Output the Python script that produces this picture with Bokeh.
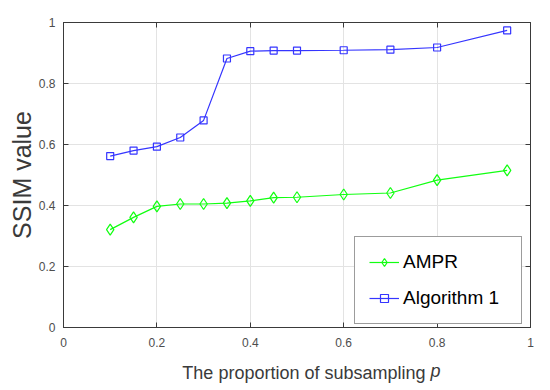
import math
from bokeh.plotting import figure
from bokeh.models import (LinearAxis, Range1d, Legend, LegendItem, Label, Grid,
                          FixedTicker, CustomJSTickFormatter)
from bokeh.embed import file_html
from bokeh.resources import INLINE

p_values = [0.1, 0.15, 0.2, 0.25, 0.3, 0.35, 0.4, 0.45, 0.5, 0.6, 0.7, 0.8, 0.95]
ampr = [0.321, 0.361, 0.397, 0.405, 0.405, 0.408, 0.415, 0.426, 0.427, 0.436, 0.441, 0.483, 0.515]
algorithm1 = [0.562, 0.580, 0.593, 0.623, 0.679, 0.882, 0.906, 0.908, 0.908, 0.909, 0.911, 0.918, 0.974]
x_ticks = [0, 0.2, 0.4, 0.6, 0.8, 1]
y_ticks = [0, 0.2, 0.4, 0.6, 0.8, 1]
series_names = ["AMPR", "Algorithm 1"]

FONT = "Liberation Sans"
AX = "#3a3a3a"
TICKLAB = "#4d4d4d"
GREEN = "#11ff11"
BLUE = "#3535ff"

p = figure(width=550, height=390, output_backend="svg", toolbar_location=None,
           x_range=Range1d(0, 1), y_range=Range1d(0, 1),
           x_axis_type=None, y_axis_type=None,
           min_border_left=63, min_border_right=20, min_border_top=22, min_border_bottom=63)
p.background_fill_color = "white"
p.border_fill_color = "white"
p.outline_line_color = AX
p.outline_line_width = 1

def make_axis(ticks, show_labels):
    ax = LinearAxis(ticker=FixedTicker(ticks=ticks))
    ax.axis_line_color = AX
    ax.major_tick_line_color = AX
    ax.major_tick_in = 5
    ax.major_tick_out = 0
    ax.minor_tick_line_color = None
    ax.major_label_text_font = FONT
    ax.major_label_text_font_size = "12px"
    ax.major_label_text_color = TICKLAB
    ax.major_label_standoff = 8
    ax.axis_label_text_font = FONT
    ax.axis_label_text_color = AX
    ax.axis_label_text_font_style = "normal"
    if show_labels:
        ax.formatter = CustomJSTickFormatter(code="return tick.toString()")
    else:
        ax.formatter = CustomJSTickFormatter(code="return ''")
        ax.major_label_standoff = 0
    return ax

xb = make_axis(x_ticks, True)
xb.major_label_standoff = 10
p.add_layout(xb, "below")
yl = make_axis(y_ticks, True)
yl.axis_label = "SSIM value"
yl.axis_label_text_font_size = "25px"
yl.axis_label_standoff = 0
p.add_layout(yl, "left")
p.add_layout(make_axis(x_ticks, False), "above")
p.add_layout(make_axis(y_ticks, False), "right")

p.add_layout(Grid(dimension=0, ticker=FixedTicker(ticks=x_ticks), grid_line_color="#e3e3e3"))
p.add_layout(Grid(dimension=1, ticker=FixedTicker(ticks=y_ticks), grid_line_color="#e3e3e3"))

l1 = p.line(p_values, ampr, line_color=GREEN, line_width=1.2)
s1 = p.scatter(p_values, ampr, marker="diamond", size=11, fill_color=None,
               line_color=GREEN, line_width=1.2)
l2 = p.line(p_values, algorithm1, line_color=BLUE, line_width=1.2)
s2 = p.scatter(p_values, algorithm1, marker="square", size=7, fill_color=None,
               line_color=BLUE, line_width=1.2)

legend = Legend(items=[LegendItem(label=series_names[0], renderers=[l1, s1]),
                       LegendItem(label=series_names[1], renderers=[l2, s2])],
                location=(291, 3))
legend.label_text_font = FONT
legend.label_text_font_size = "19px"
legend.label_text_color = "black"
legend.border_line_color = AX
legend.border_line_width = 1
legend.background_fill_color = "white"
legend.background_fill_alpha = 1
legend.glyph_width = 30
legend.glyph_height = 20
legend.label_height = 20
legend.label_width = 104
legend.label_standoff = 4
legend.spacing = 14
legend.padding = 14
legend.margin = 0
p.add_layout(legend, "center")

p.add_layout(Label(x=362, y=-3, x_units="screen", y_units="screen",
                   text="The proportion of subsampling",
                   text_font=FONT, text_font_size="18px", text_color=AX,
                   text_align="right", text_baseline="alphabetic"), "below")
p.add_layout(Label(x=367, y=19, x_units="screen", y_units="screen", text="p",
                   text_font=FONT, text_font_size="18px", text_color=AX,
                   text_font_style="italic",
                   text_align="left", text_baseline="alphabetic"), "below")

open("out.html", "w").write(file_html(p, INLINE))
